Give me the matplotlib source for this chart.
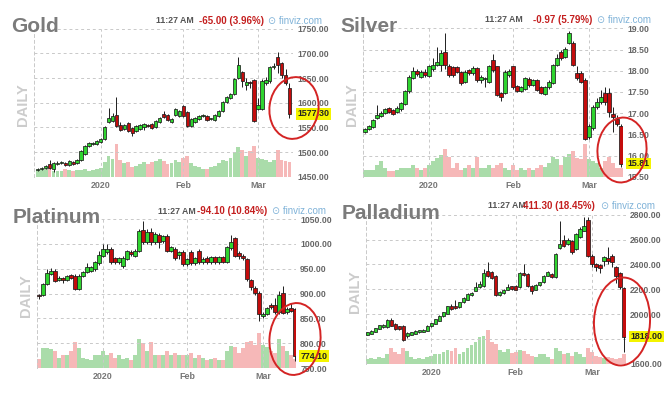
import matplotlib
matplotlib.use("Agg")
import matplotlib.pyplot as plt
from matplotlib.patches import Ellipse
from matplotlib.transforms import IdentityTransform

# ---------------- DATA ----------------
month_starts = [16, 37, 56]
month_labels = ["2020", "Feb", "Mar"]
time_label = "11:27 AM"

gold_open = [1463, 1465, 1467, 1475, 1465, 1476, 1478, 1478, 1474, 1480,
             1477, 1484, 1496, 1512, 1517, 1517, 1520, 1527, 1561, 1563,
             1575, 1555, 1547, 1559, 1548, 1543, 1547, 1550, 1554, 1557,
             1550, 1560, 1577, 1576, 1560, 1575, 1574, 1594, 1581, 1552,
             1560, 1566, 1573, 1574, 1566, 1565, 1574, 1584, 1602, 1609,
             1618, 1650, 1662, 1636, 1642, 1646, 1588, 1588, 1640, 1643,
             1672, 1693, 1680, 1656, 1630]
gold_close = [1465, 1467, 1472, 1467, 1478, 1478, 1479, 1474, 1481, 1476,
              1484, 1502, 1512, 1518, 1519, 1522, 1527, 1551, 1570, 1574,
              1553, 1545, 1554, 1542, 1539, 1552, 1554, 1557, 1553, 1549,
              1562, 1570, 1572, 1565, 1566, 1587, 1584, 1574, 1552, 1567,
              1570, 1573, 1576, 1565, 1568, 1576, 1584, 1602, 1611, 1618,
              1648, 1676, 1645, 1642, 1640, 1563, 1595, 1645, 1646, 1672,
              1675, 1676, 1656, 1640, 1577.3]
gold_high = [1467, 1469, 1474, 1484, 1480, 1481, 1481, 1480, 1483, 1482,
             1486, 1504, 1514, 1520, 1521, 1524, 1529, 1553, 1590, 1580,
             1611, 1560, 1557, 1561, 1550, 1554, 1556, 1559, 1556, 1559,
             1565, 1572, 1584, 1578, 1568, 1589, 1586, 1596, 1583, 1569,
             1572, 1575, 1578, 1576, 1570, 1578, 1586, 1604, 1613, 1620,
             1650, 1693, 1664, 1650, 1645, 1648, 1610, 1648, 1652, 1675,
             1680, 1703, 1683, 1668, 1640]
gold_low = [1461, 1463, 1465, 1465, 1460, 1474, 1476, 1472, 1472, 1474,
            1475, 1482, 1494, 1510, 1515, 1515, 1518, 1525, 1558, 1560,
            1550, 1542, 1544, 1540, 1532, 1541, 1545, 1545, 1550, 1547,
            1548, 1558, 1570, 1562, 1558, 1573, 1572, 1572, 1550, 1550,
            1558, 1564, 1571, 1563, 1564, 1563, 1572, 1582, 1600, 1607,
            1616, 1648, 1632, 1625, 1630, 1561, 1585, 1586, 1635, 1640,
            1668, 1660, 1650, 1635, 1568]
gold_vol = [20, 20, 22, 30, 18, 18, 18, 22, 20, 18,
            20, 20, 22, 18, 20, 22, 25, 44, 62, 52,
            100, 50, 40, 44, 28, 31, 38, 44, 38, 44,
            48, 52, 48, 38, 40, 50, 44, 56, 62, 40,
            31, 28, 22, 22, 28, 31, 40, 50, 48, 56,
            75, 90, 81, 62, 78, 94, 56, 52, 50, 44,
            50, 81, 50, 48, 44]

silver_open = [16.55, 16.62, 16.68, 16.88, 16.93, 17.00, 17.11, 17.07, 17.03, 17.09,
               17.21, 17.51, 17.82, 18.00, 17.84, 17.98, 17.87, 18.03, 18.13, 18.13,
               18.45, 18.11, 18.09, 18.09, 17.98, 17.74, 18.02, 17.94, 18.06, 17.77,
               17.80, 17.74, 18.25, 18.10, 17.47, 17.47, 17.90, 18.10, 17.64, 17.53,
               17.58, 17.80, 17.66, 17.77, 17.62, 17.45, 17.61, 17.70, 18.13, 18.43,
               18.33, 18.65, 18.65, 17.95, 17.95, 17.78, 16.44, 16.64, 17.15, 17.27,
               17.47, 17.47, 16.99, 16.85, 16.70]
silver_close = [16.62, 16.70, 16.84, 16.96, 17.01, 17.09, 17.03, 16.99, 17.13, 17.23,
                17.51, 17.86, 18.00, 17.92, 17.98, 17.90, 18.10, 18.13, 18.21, 18.41,
                18.13, 17.90, 17.90, 17.98, 17.70, 17.98, 17.94, 18.06, 17.78, 17.84,
                17.83, 18.10, 18.02, 17.43, 17.39, 17.98, 18.00, 17.62, 17.53, 17.61,
                17.82, 17.66, 17.78, 17.55, 17.47, 17.61, 17.74, 18.13, 18.29, 18.29,
                18.50, 18.88, 18.13, 17.82, 17.74, 16.40, 16.70, 17.15, 17.27, 17.39,
                17.27, 17.03, 16.90, 16.74, 15.81]
silver_high = [16.65, 16.73, 16.87, 17.20, 17.04, 17.12, 17.14, 17.10, 17.16, 17.26,
               17.54, 17.90, 18.08, 18.04, 18.02, 18.05, 18.13, 18.30, 18.57, 18.50,
               18.88, 18.15, 18.12, 18.12, 18.00, 18.02, 18.05, 18.10, 18.08, 17.90,
               17.86, 18.13, 18.40, 18.12, 17.50, 18.02, 18.03, 18.12, 17.66, 17.64,
               17.86, 17.84, 17.81, 17.80, 17.65, 17.64, 17.78, 18.16, 18.40, 18.50,
               18.55, 18.93, 18.70, 18.10, 18.00, 17.82, 16.74, 17.18, 17.35, 17.55,
               17.62, 17.60, 17.15, 16.95, 16.75]
silver_low = [16.52, 16.60, 16.66, 16.85, 16.90, 16.98, 17.00, 16.96, 17.00, 17.06,
              17.18, 17.48, 17.80, 17.88, 17.82, 17.86, 17.85, 18.00, 18.10, 18.00,
              18.05, 17.86, 17.85, 17.95, 17.66, 17.72, 17.90, 17.90, 17.74, 17.72,
              17.62, 17.70, 17.98, 17.40, 17.28, 17.44, 17.86, 17.58, 17.50, 17.50,
              17.55, 17.62, 17.63, 17.52, 17.44, 17.42, 17.58, 17.68, 18.10, 18.25,
              18.30, 18.62, 18.10, 17.78, 17.70, 16.36, 16.40, 16.60, 17.10, 17.22,
              17.20, 16.90, 16.55, 16.70, 15.72]
silver_vol = [21, 21, 21, 34, 46, 27, 18, 18, 21, 25,
              27, 25, 34, 27, 21, 27, 34, 46, 55, 65,
              84, 59, 27, 40, 21, 27, 34, 25, 59, 27,
              25, 34, 27, 34, 40, 25, 21, 34, 21, 25,
              21, 25, 21, 25, 34, 30, 40, 59, 52, 34,
              59, 68, 78, 55, 52, 100, 52, 46, 40, 27,
              46, 59, 40, 27, 27]

platinum_open = [897, 896, 919, 939, 946, 928, 931, 928, 937, 936,
                 910, 936, 943, 946, 949, 961, 976, 983, 990, 971,
                 963, 956, 970, 984, 976, 986, 1028, 1004, 1023, 1003,
                 1018, 1006, 1016, 986, 990, 978, 983, 959, 984, 961,
                 986, 963, 971, 963, 973, 963, 973, 964, 991, 1011,
                 982, 976, 969, 927, 912, 902, 854, 859, 876, 876,
                 862, 902, 862, 870, 868]
platinum_close = [895, 919, 941, 946, 926, 931, 928, 935, 932, 910,
                  936, 943, 953, 953, 963, 978, 990, 990, 963, 963,
                  971, 971, 986, 980, 986, 1026, 1004, 1023, 1003, 1020,
                  1003, 1015, 986, 993, 971, 983, 959, 969, 961, 971,
                  963, 970, 963, 973, 963, 973, 964, 993, 1004, 976,
                  975, 971, 929, 914, 902, 859, 859, 870, 872, 862,
                  896, 861, 869, 865, 774.1]
platinum_high = [900, 921, 950, 952, 950, 935, 934, 938, 940, 939,
                 939, 946, 962, 956, 966, 985, 1000, 1000, 993, 974,
                 974, 975, 988, 987, 990, 1030, 1045, 1030, 1032, 1024,
                 1022, 1018, 1019, 996, 993, 986, 987, 972, 988, 974,
                 989, 973, 975, 976, 976, 976, 976, 996, 1018, 1014,
                 985, 979, 972, 930, 915, 905, 862, 873, 880, 890,
                 905, 915, 872, 880, 870]
platinum_low = [888, 894, 917, 937, 923, 925, 922, 925, 929, 907,
                908, 934, 941, 943, 946, 958, 974, 980, 960, 959,
                960, 952, 967, 976, 973, 984, 1000, 1000, 998, 999,
                992, 1002, 983, 983, 968, 970, 955, 956, 958, 958,
                960, 960, 960, 960, 960, 960, 961, 961, 988, 973,
                970, 967, 925, 908, 896, 845, 850, 856, 868, 858,
                858, 858, 859, 862, 765]
platinum_vol = [28, 60, 60, 56, 50, 31, 38, 40, 50, 79,
                60, 31, 28, 25, 38, 40, 50, 38, 44, 31,
                38, 28, 31, 25, 38, 88, 75, 50, 78, 38,
                38, 40, 50, 40, 44, 40, 40, 38, 44, 31,
                38, 31, 25, 28, 31, 25, 25, 52, 65, 62,
                44, 60, 78, 81, 69, 104, 69, 62, 52, 44,
                88, 65, 50, 38, 28]

palladium_open = [1833, 1839, 1858, 1879, 1893, 1893, 1954, 1919, 1900, 1906,
                  1820, 1831, 1839, 1852, 1858, 1866, 1900, 1919, 1946, 1981,
                  2000, 2062, 2062, 2054, 2094, 2115, 2153, 2188, 2215, 2223,
                  2349, 2341, 2309, 2153, 2169, 2196, 2223, 2223, 2215, 2330,
                  2322, 2223, 2196, 2234, 2255, 2309, 2322, 2295, 2529, 2599,
                  2564, 2591, 2523, 2618, 2671, 2760, 2470, 2403, 2395, 2429,
                  2449, 2464, 2376, 2330, 2207]
palladium_close = [1852, 1866, 1885, 1911, 1911, 1954, 1906, 1879, 1879, 1793,
                   1847, 1852, 1866, 1871, 1874, 1906, 1927, 1960, 1987, 2013,
                   2062, 2040, 2046, 2094, 2126, 2161, 2169, 2215, 2242, 2330,
                   2303, 2287, 2153, 2180, 2196, 2215, 2201, 2196, 2330, 2314,
                   2223, 2188, 2234, 2255, 2309, 2341, 2295, 2483, 2564, 2550,
                   2599, 2502, 2644, 2685, 2711, 2470, 2403, 2376, 2368, 2456,
                   2429, 2421, 2303, 2215, 1818]
palladium_high = [1856, 1870, 1889, 1915, 1916, 1958, 1965, 1925, 1905, 1910,
                  1852, 1856, 1870, 1875, 1878, 1910, 1931, 1964, 1991, 2020,
                  2068, 2080, 2110, 2100, 2140, 2170, 2175, 2260, 2270, 2360,
                  2420, 2350, 2315, 2186, 2200, 2240, 2228, 2230, 2340, 2400,
                  2330, 2230, 2240, 2262, 2315, 2350, 2330, 2490, 2750, 2640,
                  2610, 2600, 2650, 2700, 2780, 2785, 2480, 2410, 2400, 2470,
                  2540, 2480, 2385, 2335, 2215]
palladium_low = [1830, 1836, 1855, 1876, 1890, 1890, 1902, 1875, 1875, 1780,
                 1805, 1828, 1836, 1849, 1855, 1863, 1897, 1916, 1943, 1978,
                 1997, 2035, 2040, 2050, 2090, 2110, 2148, 2183, 2210, 2218,
                 2295, 2280, 2145, 2148, 2165, 2190, 2195, 2190, 2210, 2305,
                 2215, 2160, 2190, 2228, 2250, 2305, 2290, 2290, 2520, 2540,
                 2555, 2480, 2515, 2610, 2665, 2460, 2380, 2350, 2330, 2390,
                 2400, 2380, 2250, 2200, 1697]
palladium_vol = [15, 17, 15, 19, 17, 28, 47, 35, 29, 47,
                 38, 19, 15, 17, 15, 19, 22, 28, 28, 35,
                 41, 38, 47, 28, 35, 47, 56, 65, 79, 83,
                 101, 65, 59, 41, 35, 44, 32, 35, 41, 38,
                 29, 22, 19, 28, 29, 19, 15, 47, 38, 29,
                 32, 22, 35, 28, 19, 47, 35, 22, 19, 17,
                 19, 17, 15, 17, 28]

names = ["Gold", "Silver", "Platinum", "Palladium"]
changes = ["-65.00 (3.96%)", "-0.97 (5.79%)", "-94.10 (10.84%)", "411.30 (18.45%)"]
last_labels = ["1577.30", "15.81", "774.10", "1818.00"]
yticks_list = [[1450, 1500, 1550, 1600, 1650, 1700, 1750],
               [15.5, 16.0, 16.5, 17.0, 17.5, 18.0, 18.5, 19.0],
               [750, 800, 850, 900, 950, 1000, 1050],
               [1600, 1800, 2000, 2200, 2400, 2600, 2800]]

series = [(gold_open, gold_high, gold_low, gold_close, gold_vol),
          (silver_open, silver_high, silver_low, silver_close, silver_vol),
          (platinum_open, platinum_high, platinum_low, platinum_close, platinum_vol),
          (palladium_open, palladium_high, palladium_low, palladium_close, palladium_vol)]

# ---------------- STYLE / LAYOUT ----------------
W, H = 668, 399
fig = plt.figure(figsize=(W / 100, H / 100), dpi=100)
fig.patch.set_facecolor("white")

FONT = ["Liberation Sans", "DejaVu Sans"]
UP, DOWN = "#2fd42f", "#c40c0c"
VUP, VDOWN = "#aadcaa", "#f6b8b8"
GRID = "#c9c9c9"
EDGE = "#1e1e1e"

layout = [
    dict(rect=(34, 28.7, 293, 176.7), xlim=(-0.97, 64.9),
         title=(11, 32), daily=(22.7, 105), hdr_y=20.5, hx=(155.7, 199, 268),
         ell=(294, 108, 49, 62, -8)),
    dict(rect=(363, 28.3, 623, 176.7), xlim=(-0.5, 64.5),
         title=(340, 32), daily=(352, 105), hdr_y=20, hx=(485, 533, 597),
         ell=(622, 150, 49, 65, -5)),
    dict(rect=(37, 219, 296, 368), xlim=(-0.5, 64.25),
         title=(13, 222.5), daily=(26, 296), hdr_y=211.5, hx=(158, 197, 272),
         ell=(295, 339, 51, 72, -5)),
    dict(rect=(366, 214.7, 626, 363.7), xlim=(-0.3, 64.5),
         title=(342, 219), daily=(354.7, 291.5), hdr_y=206, hx=(488, 523, 601),
         ell=(622, 321.5, 56, 88, -3)),
]


def frect(l, t, r, b):
    return [l / W, 1 - b / H, (r - l) / W, (b - t) / H]


def fp(x, y):
    return x / W, 1 - y / H


for k, (o, h, l, c, v) in enumerate(series):
    L = layout[k]
    rect = frect(*L["rect"])
    n = len(c)
    xs = list(range(n))
    up = [c[i] >= o[i] for i in xs]

    # volume axes (behind)
    vax = fig.add_axes(rect)
    vax.bar(xs, v, width=0.96, color=[VUP if u else VDOWN for u in up],
            edgecolor="none")
    vax.set_xlim(*L["xlim"])
    vax.set_ylim(0, 447)
    vax.axis("off")

    # price axes
    ax = fig.add_axes(rect)
    ax.set_facecolor("none")
    ax.set_xlim(*L["xlim"])
    yt = yticks_list[k]
    ax.set_ylim(yt[0], yt[-1])
    ax.vlines(xs, l, h, color=EDGE, lw=0.7, zorder=3)
    bottoms = [min(o[i], c[i]) for i in xs]
    heights = [abs(c[i] - o[i]) for i in xs]
    ax.bar(xs, heights, bottom=bottoms, width=0.84,
           color=[UP if u else DOWN for u in up],
           edgecolor=EDGE, linewidth=0.55, zorder=4)

    ax.set_yticks(yt)
    ax.set_yticklabels([f"{t:.2f}" for t in yt])
    ax.yaxis.tick_right()
    ax.tick_params(axis="y", length=0, pad=3.0, labelsize=6.2,
                   labelcolor="#666666")
    ax.set_xticks(month_starts)
    ax.set_xticklabels(month_labels)
    ax.tick_params(axis="x", length=0, pad=3.0, labelsize=6.4,
                   labelcolor="#777777")
    for lab in ax.get_xticklabels() + ax.get_yticklabels():
        lab.set_family(FONT)
        lab.set_fontweight("bold")
    ax.grid(True, color=GRID, lw=0.7, ls=(0, (3, 3)))
    for s in ["top", "right", "bottom"]:
        ax.spines[s].set_visible(False)
    ax.spines["left"].set_color(GRID)
    ax.spines["left"].set_linewidth(0.7)
    ax.spines["left"].set_linestyle((0, (3, 3)))

    # last price label
    ax.annotate(last_labels[k], xy=(1, c[-1]), xycoords=("axes fraction", "data"),
                xytext=(3.0, 0), textcoords="offset points", ha="left",
                va="center", fontsize=6.4, fontweight="bold", color="#222222",
                family=FONT, zorder=10,
                bbox=dict(boxstyle="square,pad=0.15", fc="#f4f400", ec="none"))

    # titles and header
    fig.text(*fp(*L["title"]), names[k], fontsize=15, fontweight="bold",
             color="#7b7b7b", family=FONT, ha="left", va="baseline")
    fig.text(*fp(*L["daily"]), "DAILY", fontsize=10.5, fontweight="bold",
             color="#cccccc", family=FONT, rotation=90, ha="center",
             va="center")
    hx = L["hx"]
    fig.text(*fp(hx[0], L["hdr_y"]), time_label, fontsize=6.3,
             fontweight="bold", color="#555555", family=FONT, ha="left",
             va="center")
    fig.text(*fp(hx[1], L["hdr_y"]), changes[k], fontsize=7,
             fontweight="bold", color="#c41e1e", family=FONT, ha="left",
             va="center")
    fig.text(*fp(hx[2], L["hdr_y"]), "\u2299 finviz.com", fontsize=7,
             color="#7fb2d8", family=FONT, ha="left", va="center")

    ex, ey, ew, eh, ea = L["ell"]
    e = Ellipse((ex, H - ey), ew, eh, angle=ea, fill=False, ec="#d42424",
                lw=1.4, transform=IdentityTransform(), zorder=20)
    fig.add_artist(e)

fig.savefig("out.png", dpi=100, facecolor="white")
